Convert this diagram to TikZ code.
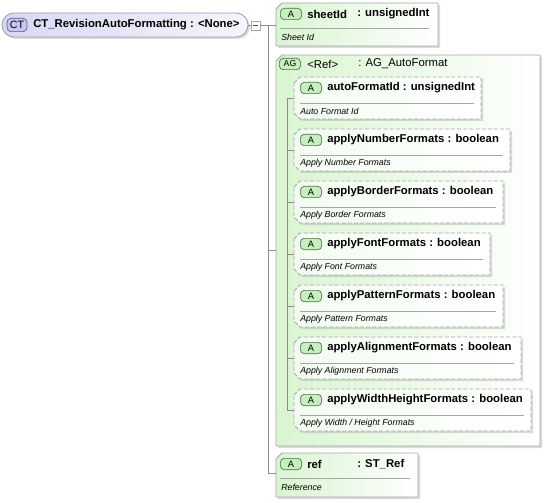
\documentclass[tikz,border=0pt]{standalone}
\usepackage{fontspec}
\setmainfont{Liberation Sans}
\usetikzlibrary{shadows}

\definecolor{ctfill}{HTML}{D8D8F4}
\definecolor{ctedge}{HTML}{9A9AAE}
\definecolor{ctbadge}{HTML}{C6C6EE}
\definecolor{ctbadgeedge}{HTML}{5C5C8E}
\definecolor{agfill}{HTML}{D9F5D1}
\definecolor{boxedge}{HTML}{A6A6A6}
\definecolor{badgefill}{HTML}{C6EFBE}
\definecolor{badgeedge}{HTML}{4E6E4E}
\definecolor{wire}{HTML}{8C8C8C}

\begin{document}
\begin{tikzpicture}[
  x=0.75pt, y=-0.75pt,
  font=\fontsize{8.5}{10}\selectfont,
  every node/.style={inner sep=0pt},
  wire/.style={draw=wire, line width=0.6pt},
  boxshadow/.style={drop shadow={shadow xshift=1.5pt, shadow yshift=-1.5pt,
      opacity=0.4, fill=gray!70}},
  solidbox/.style={draw=boxedge, line width=0.6pt, left color=agfill,
      right color=white, boxshadow},
  dashbox/.style={draw=boxedge, line width=0.6pt, dash pattern=on 3pt off 1.6pt,
      left color=agfill!30, right color=white, boxshadow},
  badge/.style={draw=badgeedge, fill=badgefill, rounded corners=3pt,
      minimum width=16pt, minimum height=8.5pt, line width=0.5pt,
      font=\fontsize{7}{8}\selectfont},
  label/.style={anchor=west, font=\fontsize{8.5}{10}\selectfont\bfseries},
  desc/.style={anchor=west, font=\fontsize{6.6}{8}\selectfont\itshape},
  sepline/.style={draw=boxedge, line width=0.5pt},
]
\useasboundingbox (0,0) rectangle (547,503);

% complex type
\draw[draw=ctedge, line width=0.6pt, rounded corners=9pt, left color=ctfill,
  right color=ctfill!25, boxshadow] (2,13) rectangle (248,37);
\coordinate (ct-e) at (248,25.5);
\node[draw=ctbadgeedge, fill=ctbadge, rounded corners=3pt, minimum width=15pt,
  minimum height=10pt, line width=0.5pt, font=\fontsize{8}{9}\selectfont]
  (ctbadge) at (17,25) {CT};
\node[label] (ctname) at (33,25) {CT\_RevisionAutoFormatting : <None>};
\node[draw=boxedge, fill=white, minimum size=6.75pt, line width=0.5pt]
  (ctmin) at (255.5,25.5) {};
\draw[black!70, line width=0.5pt] (253,25.5) -- (258,25.5);

% sheetId
\path[solidbox] (276,9) -- (282,3) -- (438,3) -- (438,46) -- (276,46) -- cycle;
\coordinate (sheet-w) at (276,25.5);
\node[badge] (sheetbadge) at (291,14) {A};
\node[label] (sheetname) at (307,14) {sheetId};
\node[label] (sheettype) at (357,14) {: unsignedInt};
\draw[sepline] (280,28) -- (429,28);
\node[desc] (sheetdesc) at (281,37) {Sheet Id};

% attribute group
\path[solidbox] (276,61) -- (282,55) -- (540,55) -- (540,446) -- (276,446) -- cycle;
\coordinate (ag-w) at (276,250);
\node[badge, font=\fontsize{6.5}{8}\selectfont] (agbadge) at (290,64) {AG};
\node[anchor=west] (agname) at (307,64) {<Ref>};
\node[anchor=west] (agtype) at (358,64) {: AG\_AutoFormat};
\coordinate (ag-top) at (287,98);

\foreach \name/\type/\desc/\xr [count=\i from 0] in {
  autoFormatId/unsignedInt/{Auto Format Id}/481,
  applyNumberFormats/boolean/{Apply Number Formats}/510,
  applyBorderFormats/boolean/{Apply Border Formats}/503,
  applyFontFormats/boolean/{Apply Font Formats}/490,
  applyPatternFormats/boolean/{Apply Pattern Formats}/503,
  applyAlignmentFormats/boolean/{Apply Alignment Formats}/521,
  applyWidthHeightFormats/boolean/{Apply Width / Height Formats}/531%
} {
  \pgfmathsetmacro{\yt}{77+\i*52}
  \path[dashbox] (294,\yt+6) -- (300,\yt) -- (\xr,\yt) -- (\xr,\yt+42)
    -- (300,\yt+42) -- (294,\yt+36) -- cycle;
  \coordinate (c\i-w) at (294,\yt+21);
  \node[badge] (c\i-badge) at (311,\yt+11) {A};
  \node[label] (c\i-name) at (327,\yt+11) {\name\ : \type};
  \draw[sepline] (300,\yt+26) -- (\xr-7,\yt+26);
  \node[desc] (c\i-desc) at (300,\yt+34) {\desc};
  \draw[wire] (c\i-w) -| (ag-top);
}

% ref
\path[solidbox] (276,459) -- (282,453) -- (418,453) -- (418,497) -- (276,497) -- cycle;
\coordinate (ref-w) at (276,473);
\node[badge] (refbadge) at (291,464) {A};
\node[label] (refname) at (307,464) {ref};
\node[label] (reftype) at (357,464) {: ST\_Ref};
\draw[sepline] (280,478) -- (410,478);
\node[desc] (refdesc) at (281,487) {Reference};

% connectors
\coordinate (trunk) at (268,25.5);
\draw[wire] (ct-e) -- (ctmin.west);
\draw[wire] (ctmin.east) -- (sheet-w);
\draw[wire] (ag-w) -| (trunk);
\draw[wire] (ref-w) -| (trunk);
\end{tikzpicture}
\end{document}
